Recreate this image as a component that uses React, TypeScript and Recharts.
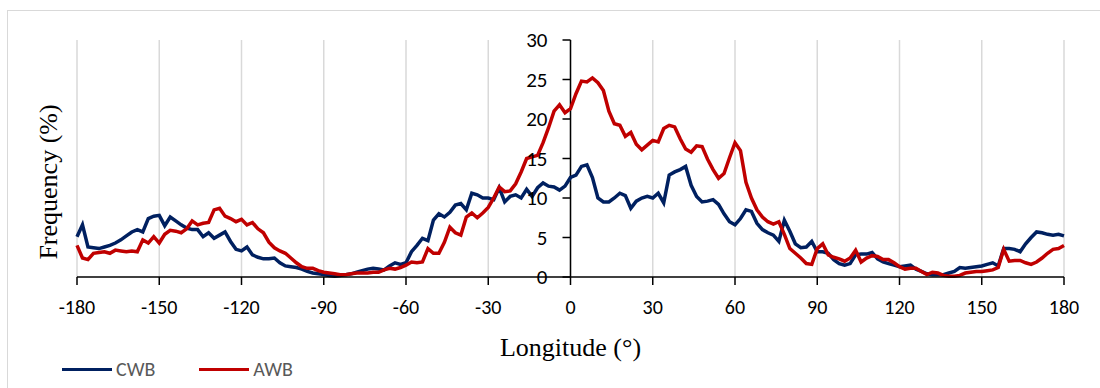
import { LineChart, Line, XAxis, YAxis, CartesianGrid, ReferenceLine, Legend, Label } from 'recharts';

// Longitude grid, 2° steps from -180 to 180
const LONGITUDES = Array.from({ length: 181 }, (_, i) => -180 + i * 2);
const X_TICKS = [-180, -150, -120, -90, -60, -30, 0, 30, 60, 90, 120, 150, 180];
const Y_TICKS = [0, 5, 10, 15, 20, 25, 30];

// Frequency (%) of cyclonic wave breaking
const CWB = [
  5.1, 6.6, 3.8, 3.7, 3.6, 3.8, 4.0, 4.3, 4.7, 5.2,
  5.7, 6.0, 5.7, 7.4, 7.7, 7.8, 6.5, 7.6, 7.1, 6.6,
  6.2, 6.0, 6.0, 5.1, 5.6, 4.9, 5.3, 5.7, 4.5, 3.5,
  3.3, 3.8, 2.8, 2.5, 2.3, 2.3, 2.4, 1.8, 1.4, 1.3,
  1.2, 1.0, 0.7, 0.5, 0.4, 0.3, 0.2, 0.1, 0.2, 0.3,
  0.4, 0.6, 0.8, 1.0, 1.1, 1.0, 0.9, 1.4, 1.8, 1.6,
  1.8, 3.2, 4.0, 4.9, 4.6, 7.2, 8.0, 7.6, 8.2, 9.1,
  9.3, 8.5, 10.6, 10.4, 10.0, 10.0, 9.8, 11.3, 9.5, 10.2,
  10.4, 10.0, 11.1, 10.2, 11.3, 11.9, 11.5, 11.4, 11.0, 11.5,
  12.6, 12.9, 14.0, 14.2, 12.6, 10.0, 9.5, 9.5, 10.0, 10.6,
  10.3, 8.7, 9.6, 10.0, 10.2, 10.0, 10.6, 9.4, 12.9, 13.3,
  13.6, 14.0, 11.6, 10.2, 9.5, 9.6, 9.8, 9.2, 8.0, 7.0,
  6.6, 7.4, 8.5, 8.3, 6.8, 6.0, 5.6, 5.3, 4.5, 7.2,
  5.8, 4.2, 3.7, 3.8, 4.5, 3.2, 3.2, 3.0, 2.2, 1.7,
  1.5, 1.7, 2.8, 2.9, 2.9, 3.1, 2.3, 1.9, 1.7, 1.5,
  1.3, 1.4, 1.5, 1.0, 0.7, 0.4, 0.3, 0.3, 0.3, 0.5,
  0.7, 1.2, 1.1, 1.2, 1.3, 1.4, 1.6, 1.8, 1.4, 3.6,
  3.6, 3.5, 3.2, 4.2, 5.0, 5.7, 5.6, 5.4, 5.3, 5.4,
  5.2,
];

// Frequency (%) of anticyclonic wave breaking
const AWB = [
  4.0, 2.4, 2.2, 3.0, 3.1, 3.2, 3.0, 3.4, 3.3, 3.2,
  3.3, 3.2, 4.7, 4.3, 5.1, 4.3, 5.4, 5.9, 5.8, 5.6,
  6.1, 7.1, 6.6, 6.8, 6.9, 8.5, 8.7, 7.7, 7.4, 7.0,
  7.3, 6.6, 6.9, 6.1, 5.6, 4.4, 3.7, 3.3, 3.0, 2.4,
  1.8, 1.3, 1.1, 1.1, 0.8, 0.6, 0.5, 0.4, 0.3, 0.3,
  0.4, 0.5, 0.5, 0.5, 0.6, 0.6, 0.9, 1.1, 1.0, 1.2,
  1.5, 1.9, 1.8, 1.9, 3.6, 3.0, 3.0, 4.4, 6.3, 5.6,
  5.3, 7.6, 8.1, 7.5, 8.1, 8.8, 10.0, 11.4, 10.8, 10.9,
  11.8, 13.3, 15.0, 15.2, 15.4, 17.0, 18.9, 21.0, 21.8, 20.8,
  21.3, 23.2, 24.8, 24.7, 25.2, 24.6, 23.6, 21.0, 19.4, 19.2,
  17.8, 18.3, 16.8, 16.1, 16.7, 17.3, 17.1, 18.8, 19.2, 19.0,
  17.5, 16.2, 15.8, 16.6, 16.5, 14.9, 13.6, 12.5, 13.1, 15.1,
  17.0, 16.0, 12.0, 10.0, 8.5, 7.6, 7.0, 6.7, 7.0, 5.4,
  3.6, 3.0, 2.4, 1.7, 1.6, 3.6, 4.2, 2.8, 2.5, 2.3,
  2.0, 2.4, 3.4, 1.9, 2.4, 2.7, 2.6, 2.2, 2.2, 1.8,
  1.3, 1.0, 1.1, 1.1, 0.7, 0.3, 0.6, 0.5, 0.2, 0.1,
  0.1, 0.2, 0.5, 0.6, 0.7, 0.7, 0.8, 0.9, 1.2, 3.5,
  2.0, 2.1, 2.1, 1.8, 1.6, 1.9, 2.4, 3.0, 3.5, 3.6,
  4.0,
];

const SERIES = [
  { key: 'cwb', name: 'CWB', color: '#002060' },
  { key: 'awb', name: 'AWB', color: '#C00000' },
];

const data = LONGITUDES.map((lon, i) => ({ lon, cwb: CWB[i], awb: AWB[i] }));

const WIDTH = 1100;
const HEIGHT = 388;
const Y_AXIS_WIDTH = 60;
const MARGIN = { top: 40, right: 36, bottom: 81, left: 17 };
const PLOT_LEFT = MARGIN.left + Y_AXIS_WIDTH;
// the value axis sits on longitude 0, the middle of the symmetric domain
const AXIS_X = PLOT_LEFT + (WIDTH - PLOT_LEFT - MARGIN.right) / 2;

const TICK_FONT = "Carlito, 'Open Sans', sans-serif";
const TITLE_FONT = "'Liberation Serif', 'Times New Roman', serif";

function ValueTick(props: any) {
  const { y, payload } = props;
  return (
    <g>
      <line x1={AXIS_X - 8} x2={AXIS_X} y1={y} y2={y} stroke="#000" strokeWidth={1.5} />
      <text
        x={AXIS_X - 23}
        y={y}
        textAnchor="end"
        dominantBaseline="central"
        fontFamily={TICK_FONT}
        fontSize={21}
        fill="#000"
      >
        {payload.value}
      </text>
    </g>
  );
}

function FrequencyTitle() {
  return (
    <text
      transform={`translate(${PLOT_LEFT - 29}, ${MARGIN.top + 142}) rotate(-90)`}
      textAnchor="middle"
      dominantBaseline="central"
      fontFamily={TITLE_FONT}
      fontSize={26}
      fill="#000"
    >
      Frequency (%)
    </text>
  );
}

function LegendRow() {
  return (
    <div style={{ display: 'flex', alignItems: 'center', fontFamily: TICK_FONT, fontSize: 20, color: '#595959' }}>
      {SERIES.map((s) => (
        <div key={s.key} style={{ display: 'flex', alignItems: 'center', marginRight: 44 }}>
          <div style={{ width: 50, height: 3, background: s.color, marginRight: 4 }} />
          <span>{s.name}</span>
        </div>
      ))}
    </div>
  );
}

export default function App() {
  return (
    <div style={{ position: 'fixed', left: 0, top: 0, width: WIDTH, height: HEIGHT, background: '#fff', overflow: 'hidden' }}>
      <div style={{ position: 'absolute', left: 7, top: 10, width: 1110, height: 400, border: '1px solid #d9d9d9' }} />
      <div style={{ position: 'absolute', left: 0, top: 0 }}>
        <LineChart width={WIDTH} height={HEIGHT} data={data} margin={MARGIN}>
          <CartesianGrid horizontal={false} stroke="#d9d9d9" strokeWidth={1.5} />
          <XAxis
            dataKey="lon"
            type="number"
            domain={[-180, 180]}
            ticks={X_TICKS}
            interval={0}
            height={30}
            tickSize={8}
            tickMargin={15}
            axisLine={{ stroke: '#000', strokeWidth: 1.5 }}
            tickLine={{ stroke: '#000', strokeWidth: 1.5 }}
            tick={{ fill: '#000', fontSize: 20, fontFamily: TICK_FONT }}
          >
            <Label
              value="Longitude (°)"
              position="bottom"
              offset={31}
              fontFamily={TITLE_FONT}
              fontSize={26}
              fill="#000"
            />
          </XAxis>
          <YAxis
            type="number"
            domain={[0, 30]}
            ticks={Y_TICKS}
            interval={0}
            width={Y_AXIS_WIDTH}
            axisLine={false}
            tickLine={false}
            tick={(props: any) => <ValueTick {...props} />}
            label={() => <FrequencyTitle />}
          />
          <ReferenceLine x={0} stroke="#000" strokeWidth={1.5} />
          {SERIES.map((s) => (
            <Line
              key={s.key}
              dataKey={s.key}
              name={s.name}
              stroke={s.color}
              strokeWidth={3.5}
              dot={false}
              type="linear"
              isAnimationActive={false}
            />
          ))}
          <Legend
            verticalAlign="middle"
            layout="horizontal"
            wrapperStyle={{ left: 62, top: 357, width: 320, height: 26 }}
            content={() => <LegendRow />}
          />
        </LineChart>
      </div>
    </div>
  );
}
